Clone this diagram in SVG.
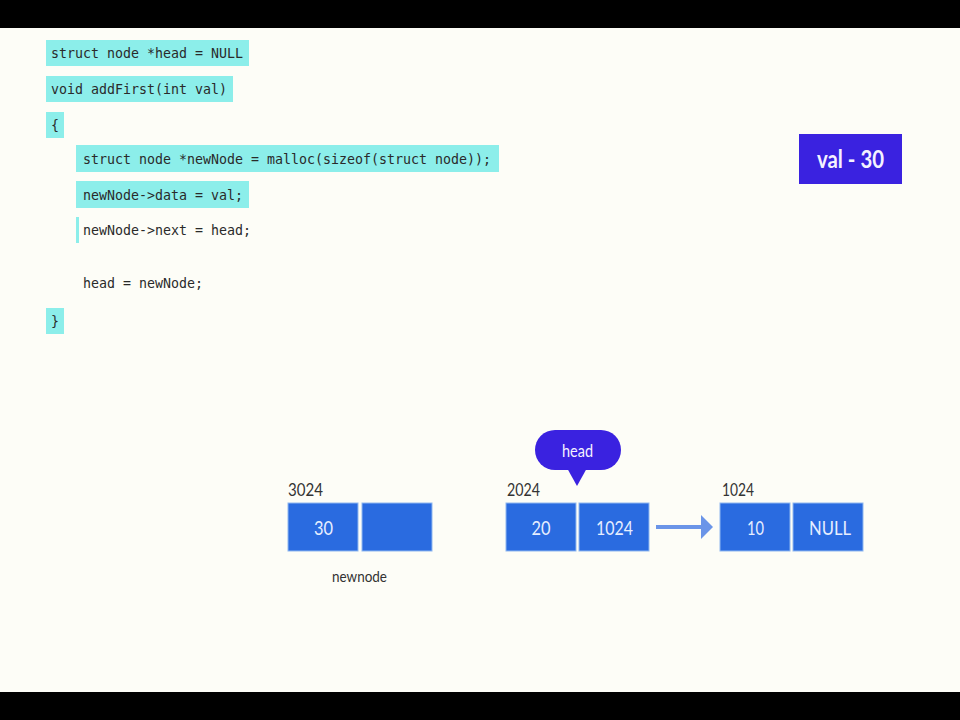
<svg xmlns="http://www.w3.org/2000/svg" width="960" height="720" viewBox="0 0 960 720">
<style>
.code{font-family:"DejaVu Sans Mono","Liberation Mono",monospace;font-size:14.5px;fill:#2a2a2a}
.hl{fill:#8ceeea}
.cell{fill:#2a6be0;stroke:#8fb8f0;stroke-width:1}
.ct{font-family:Lato,"Open Sans",sans-serif;font-size:20px;fill:#e6eeff;text-anchor:middle}
.addr{font-family:Lato,"Open Sans",sans-serif;font-size:17px;fill:#333}
.lbl{font-family:Lato,"Open Sans",sans-serif;font-size:16px;fill:#333;text-anchor:middle}
</style>
<rect x="0" y="0" width="960" height="720" fill="#fdfdf7"/>
<rect x="0" y="0" width="960" height="28" fill="#000"/>
<rect x="0" y="692" width="960" height="28" fill="#000"/>

<g id="code">
<rect class="hl" x="46" y="40" width="203" height="26"/>
<text class="code" x="51" y="58" textLength="192" lengthAdjust="spacingAndGlyphs">struct node *head = NULL</text>
<rect class="hl" x="46" y="76" width="187" height="26"/>
<text class="code" x="51" y="94" textLength="176" lengthAdjust="spacingAndGlyphs">void addFirst(int val)</text>
<rect class="hl" x="46" y="112" width="18" height="26"/>
<text class="code" x="51" y="130" textLength="8" lengthAdjust="spacingAndGlyphs">{</text>
<rect class="hl" x="76" y="145" width="423" height="27"/>
<text class="code" x="83" y="164" textLength="408" lengthAdjust="spacingAndGlyphs">struct node *newNode = malloc(sizeof(struct node));</text>
<rect class="hl" x="76" y="181" width="173" height="27"/>
<text class="code" x="83" y="200" textLength="160" lengthAdjust="spacingAndGlyphs">newNode-&gt;data = val;</text>
<rect class="hl" x="76" y="217" width="3" height="26"/>
<text class="code" x="83" y="235" textLength="168" lengthAdjust="spacingAndGlyphs">newNode-&gt;next = head;</text>
<text class="code" x="83" y="288" textLength="120" lengthAdjust="spacingAndGlyphs">head = newNode;</text>
<rect class="hl" x="46" y="308" width="18" height="26"/>
<text class="code" x="51" y="326" textLength="8" lengthAdjust="spacingAndGlyphs">}</text>
</g>

<g id="val">
<rect x="799" y="134" width="103" height="50" fill="#3a22e0"/>
<text x="817" y="168" textLength="67" lengthAdjust="spacingAndGlyphs" font-family="Lato,'Open Sans',sans-serif" font-size="25" font-weight="bold" fill="#f4f2ff">val - 30</text>
</g>

<g id="node3024">
<text class="addr" x="288" y="496" textLength="35" lengthAdjust="spacingAndGlyphs">3024</text>
<rect class="cell" x="288" y="503" width="70" height="48"/>
<rect class="cell" x="362" y="503" width="70" height="48"/>
<text class="ct" x="323.5" y="535" textLength="19" lengthAdjust="spacingAndGlyphs">30</text>
<text class="lbl" x="359.5" y="582" textLength="55" lengthAdjust="spacingAndGlyphs">newnode</text>
</g>

<g id="node2024">
<text class="addr" x="507" y="496" textLength="33" lengthAdjust="spacingAndGlyphs">2024</text>
<rect class="cell" x="506" y="503" width="70" height="48"/>
<rect class="cell" x="579" y="503" width="70" height="48"/>
<text class="ct" x="541" y="535" textLength="19" lengthAdjust="spacingAndGlyphs">20</text>
<text class="ct" x="614.5" y="535" textLength="37" lengthAdjust="spacingAndGlyphs">1024</text>
</g>

<g id="node1024">
<text class="addr" x="722" y="496" textLength="32" lengthAdjust="spacingAndGlyphs">1024</text>
<rect class="cell" x="720" y="503" width="70" height="48"/>
<rect class="cell" x="793" y="503" width="70" height="48"/>
<text class="ct" x="755.5" y="535" textLength="17" lengthAdjust="spacingAndGlyphs">10</text>
<text class="ct" x="830" y="535" textLength="42" lengthAdjust="spacingAndGlyphs">NULL</text>
</g>

<g id="head">
<rect x="535" y="430" width="86" height="40" rx="20" fill="#3a22e0"/>
<path d="M567,468 L577,486 L587,468 Z" fill="#3a22e0"/>
<text x="577.5" y="457" textLength="31" lengthAdjust="spacingAndGlyphs" font-family="Lato,'Open Sans',sans-serif" font-size="18" fill="#f4f2ff" text-anchor="middle">head</text>
</g>

<g id="connectors">
<line x1="656" y1="527" x2="703" y2="527" stroke="#6b95e8" stroke-width="4"/>
<path d="M701,515 L713,527 L701,539 Z" fill="#6b95e8"/>
</g>
</svg>
